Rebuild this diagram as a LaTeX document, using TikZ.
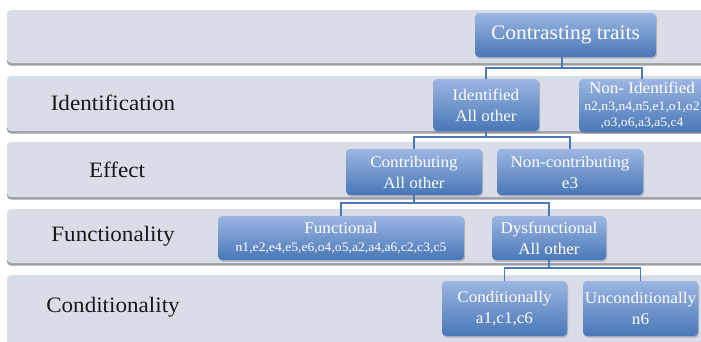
\documentclass[tikz,border=0pt]{standalone}
\usepackage{fontspec}
\setmainfont{Liberation Serif}
\newfontfamily\timesface[FakeStretch=1.05]{Liberation Serif}
\usetikzlibrary{shadows}
\definecolor{bandfill}{HTML}{D8DDE8}
\definecolor{bandshade}{HTML}{9C9FA6}
\definecolor{boxtop}{HTML}{9CB6E2}
\definecolor{boxbot}{HTML}{4877B7}
\definecolor{linkblue}{HTML}{4A7AB8}
\tikzset{
  band/.style={fill=bandfill, draw=none, rounded corners=4pt},
  bandshadow/.style={fill=bandshade, draw=none, rounded corners=4pt},
  rowlabel/.style={font=\timesface\fontsize{22}{24}\selectfont, text=black!90, anchor=center},
  box/.style={rectangle, rounded corners=4pt, top color=boxtop, bottom color=boxbot,
    draw=none, text=white, align=center, inner sep=1pt,
    font=\timesface\fontsize{16.3}{21}\selectfont,
    drop shadow={shadow xshift=1pt, shadow yshift=-1.5pt, opacity=0.35, fill=black!60}},
  link/.style={draw=linkblue, line width=1.4pt}
}
\newcommand{\listtext}[1]{{\timesface\fontsize{13}{16}\selectfont #1}}
\begin{document}
\begin{tikzpicture}[x=1pt,y=-1pt]
  \useasboundingbox (0,0) rectangle (701,341);
  \fill[white] (0,0) rectangle (701,341);

  % horizontal level bands
  \foreach \t/\b in {10/63, 76/131, 142/197, 209/263, 275/352} {
    \fill[bandshadow] (7,\t+2.5) rectangle (712,\b+2.5);
    \fill[band] (7,\t) rectangle (712,\b);
  }

  % level names
  \node[rowlabel] (lid) at (113,103) {Identification};
  \node[rowlabel] (lef) at (117,170) {Effect};
  \node[rowlabel] (lfu) at (113,236) {Functionality};
  \node[rowlabel] (lco) at (113,307) {Conditionality};

  % tree boxes
  \node[box, minimum width=181pt, minimum height=44pt, font=\timesface\fontsize{20.5}{24}\selectfont]
    (ct) at (565.5,35) {Contrasting traits};
  \node[box, minimum width=106pt, minimum height=52pt] (id) at (486,105)
    {Identified\\All other};
  \node[box, minimum width=126pt, minimum height=53pt] (nid) at (642,105.5)
    {Non- Identified\\[-4pt]\listtext{n2,n3,n4,n5,e1,o1,o2}\\[-5pt]\listtext{,o3,o6,a3,a5,c4}};
  \node[box, minimum width=136pt, minimum height=46pt] (co) at (414,172)
    {Contributing\\All other};
  \node[box, minimum width=146pt, minimum height=46pt] (nco) at (570,172)
    {Non-contributing\\e3};
  \node[box, minimum width=246pt, minimum height=44pt] (fu) at (341,238)
    {Functional\\[-3pt]\listtext{n1,e2,e4,e5,e6,o4,o5,a2,a4,a6,c2,c3,c5}};
  \node[box, minimum width=114pt, minimum height=44pt] (dy) at (549,238)
    {Dysfunctional\\All other};
  \node[box, minimum width=125pt, minimum height=55pt] (cd) at (504.5,308.5)
    {Conditionally\\a1,c1,c6};
  \node[box, minimum width=115pt, minimum height=55pt] (uc) at (640.5,308.5)
    {Unconditionally\\n6};

  % elbow connectors
  \coordinate (j1) at (562,68);
  \draw[link] (ct.south -| j1) -- (j1) -| (id.north);
  \draw[link] (j1) -| (nid.north);

  \coordinate (j2) at (486,137);
  \draw[link] (id.south) -- (j2) -| (co.north);
  \draw[link] (j2) -| (nco.north);

  \coordinate (j3) at (414,203);
  \draw[link] (co.south) -- (j3) -| (fu.north);
  \draw[link] (j3) -| (dy.north);

  \coordinate (j4) at (549,268);
  \draw[link] (dy.south) -- (j4) -| (cd.north);
  \draw[link] (j4) -| (uc.north);
\end{tikzpicture}
\end{document}
